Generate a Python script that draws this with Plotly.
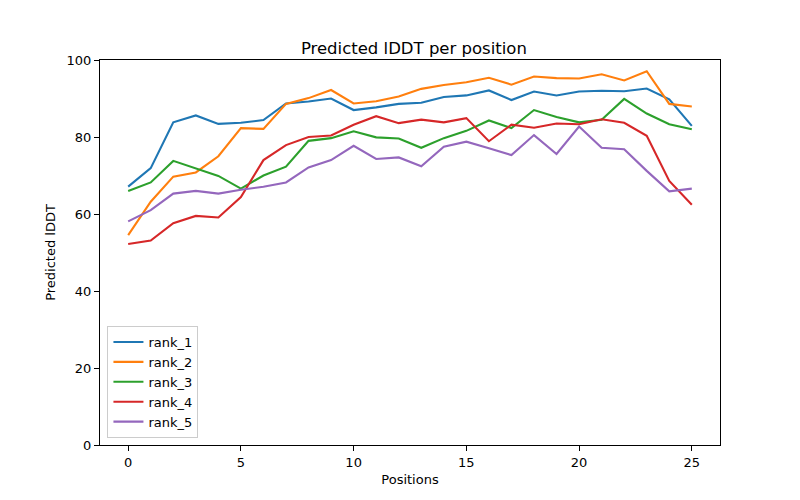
import plotly.graph_objects as go

positions = list(range(26))
rank_1 = [67.1, 71.9, 83.8, 85.6, 83.4, 83.7, 84.4, 88.7, 89.2, 90.0, 87.0, 87.7, 88.6, 88.9, 90.4, 90.8, 92.1, 89.6, 91.8, 90.8, 91.8, 92.0, 91.9, 92.6, 89.8, 82.9]
rank_2 = [54.5, 63.2, 69.7, 70.8, 75.0, 82.3, 82.1, 88.6, 90.1, 92.2, 88.7, 89.3, 90.5, 92.5, 93.5, 94.2, 95.4, 93.6, 95.7, 95.3, 95.2, 96.3, 94.7, 97.1, 88.6, 87.9]
rank_3 = [66.0, 68.2, 73.8, 71.8, 69.9, 66.6, 70.0, 72.3, 79.0, 79.7, 81.5, 79.9, 79.6, 77.2, 79.7, 81.6, 84.3, 82.3, 87.0, 85.2, 83.8, 84.5, 89.9, 86.1, 83.3, 82.0]
rank_4 = [52.2, 53.1, 57.6, 59.5, 59.1, 64.4, 74.0, 77.9, 80.0, 80.4, 83.2, 85.4, 83.6, 84.5, 83.8, 84.9, 78.9, 83.2, 82.4, 83.5, 83.3, 84.6, 83.7, 80.3, 68.6, 62.4]
rank_5 = [58.1, 61.0, 65.3, 66.0, 65.3, 66.3, 67.1, 68.2, 72.1, 74.0, 77.7, 74.3, 74.7, 72.4, 77.5, 78.8, 77.1, 75.3, 80.5, 75.6, 82.7, 77.2, 76.8, 71.2, 65.9, 66.6]

series = [("rank_1", rank_1, "#1f77b4"), ("rank_2", rank_2, "#ff7f0e"),
          ("rank_3", rank_3, "#2ca02c"), ("rank_4", rank_4, "#d62728"),
          ("rank_5", rank_5, "#9467bd")]

fig = go.Figure()
for name, vals, col in series:
    fig.add_trace(go.Scatter(x=positions, y=vals, mode="lines", name=name,
                             line=dict(color=col, width=2.1)))

axis_common = dict(showgrid=False, zeroline=False, showline=True, linecolor="black",
                   linewidth=1, mirror=True, ticks="outside", ticklen=5, tickwidth=1,
                   tickcolor="black", tickfont=dict(size=13, color="black"))

H = 492
fig.update_layout(
    width=792, height=H,
    margin=dict(l=92, r=80, t=52, b=55),
    paper_bgcolor="white", plot_bgcolor="white",
    font=dict(family="DejaVu Sans", color="black", size=13),
    title=dict(text="Predicted lDDT per position", x=0.5125, xanchor="center",
               y=1 - 46 / H, yanchor="bottom", font=dict(size=16.5)),
    xaxis=dict(range=[-1.25, 26.25], tickvals=[0, 5, 10, 15, 20, 25],
               title=dict(text="Positions", font=dict(size=13), standoff=6), **axis_common),
    yaxis=dict(range=[0, 100], tickvals=[0, 20, 40, 60, 80, 100],
               title=dict(text="Predicted lDDT", font=dict(size=13), standoff=8), **axis_common),
    legend=dict(x=0.012, y=0.018, xanchor="left", yanchor="bottom",
                bordercolor="#cccccc", borderwidth=1, bgcolor="rgba(255,255,255,0.8)",
                font=dict(size=13), tracegroupgap=0, itemwidth=30),
    showlegend=True,
)

fig.write_html("out.html")
